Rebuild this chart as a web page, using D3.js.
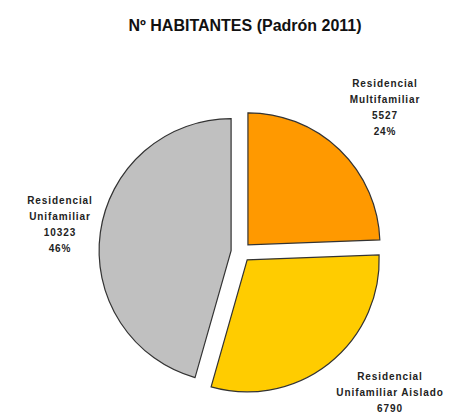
<!DOCTYPE html>
<html>
<head>
<meta charset="utf-8">
<script src="https://cdn.jsdelivr.net/npm/d3@7"></script>
<style>
  html, body { margin: 0; padding: 0; background: #fff; }
  svg { display: block; font-family: "Liberation Sans", Arial, sans-serif; }
</style>
</head>
<body>
<svg id="chart" width="450" height="417"></svg>
<script>
// datos (Padrón 2011)
const title = 'Nº HABITANTES (Padrón 2011)'
const categories = ['Residencial Multifamiliar', 'Residencial Unifamiliar Aislado', 'Residencial Unifamiliar']
const labelLines = [['Residencial', 'Multifamiliar'], ['Residencial', 'Unifamiliar Aislado'], ['Residencial', 'Unifamiliar']]
const values = [5527, 6790, 10323]
const colors = ['#FF9900', '#FFCC00', '#C0C0C0']

const width = 450, height = 417
const svg = d3.select('#chart')
const cx = 241, cy = 252, radius = 132, explode = 10

svg.append('text')
    .attr('x', 245)
    .attr('y', 31)
    .attr('text-anchor', 'middle')
    .style('font-size', '16px')
    .style('font-weight', 'bold')
    .style('fill', '#111')
    .text(title)

const total = d3.sum(values)
const pie = d3.pie().sort(null).value(d => d)
const arcs = pie(values)
const arc = d3.arc().innerRadius(0).outerRadius(radius)

const g = svg.append('g').attr('transform', `translate(${cx},${cy})`)

g.selectAll('path')
    .data(arcs)
    .join('path')
    .attr('d', arc)
    .attr('transform', d => {
        let a = (d.startAngle + d.endAngle) / 2
        return `translate(${explode * Math.sin(a)},${-explode * Math.cos(a)})`
    })
    .attr('fill', (d, i) => colors[i])
    .attr('stroke', '#333')
    .attr('stroke-width', 1.2)

// posicion del centro de cada bloque de etiqueta
const labelAt = [[385, 107], [390, 400.5], [60, 224.5]]
const lineH = 16

arcs.forEach((d, i) => {
    let lines = labelLines[i].concat([String(values[i]), Math.round(values[i] / total * 100) + '%'])
    let y0 = labelAt[i][1] - (lines.length - 1) * lineH / 2
    let t = svg.append('text')
        .attr('text-anchor', 'middle')
        .style('font-size', '10px')
        .style('font-weight', 'bold')
        .style('letter-spacing', '0.9px')
        .style('fill', '#222')
    lines.forEach((s, k) => {
        let y = y0 + k * lineH + 3.5
        if (y > height) return // en el original la ultima linea queda fuera del cuadro
        t.append('tspan')
            .attr('x', labelAt[i][0])
            .attr('y', y)
            .text(s)
    })
})
</script>
</body>
</html>
